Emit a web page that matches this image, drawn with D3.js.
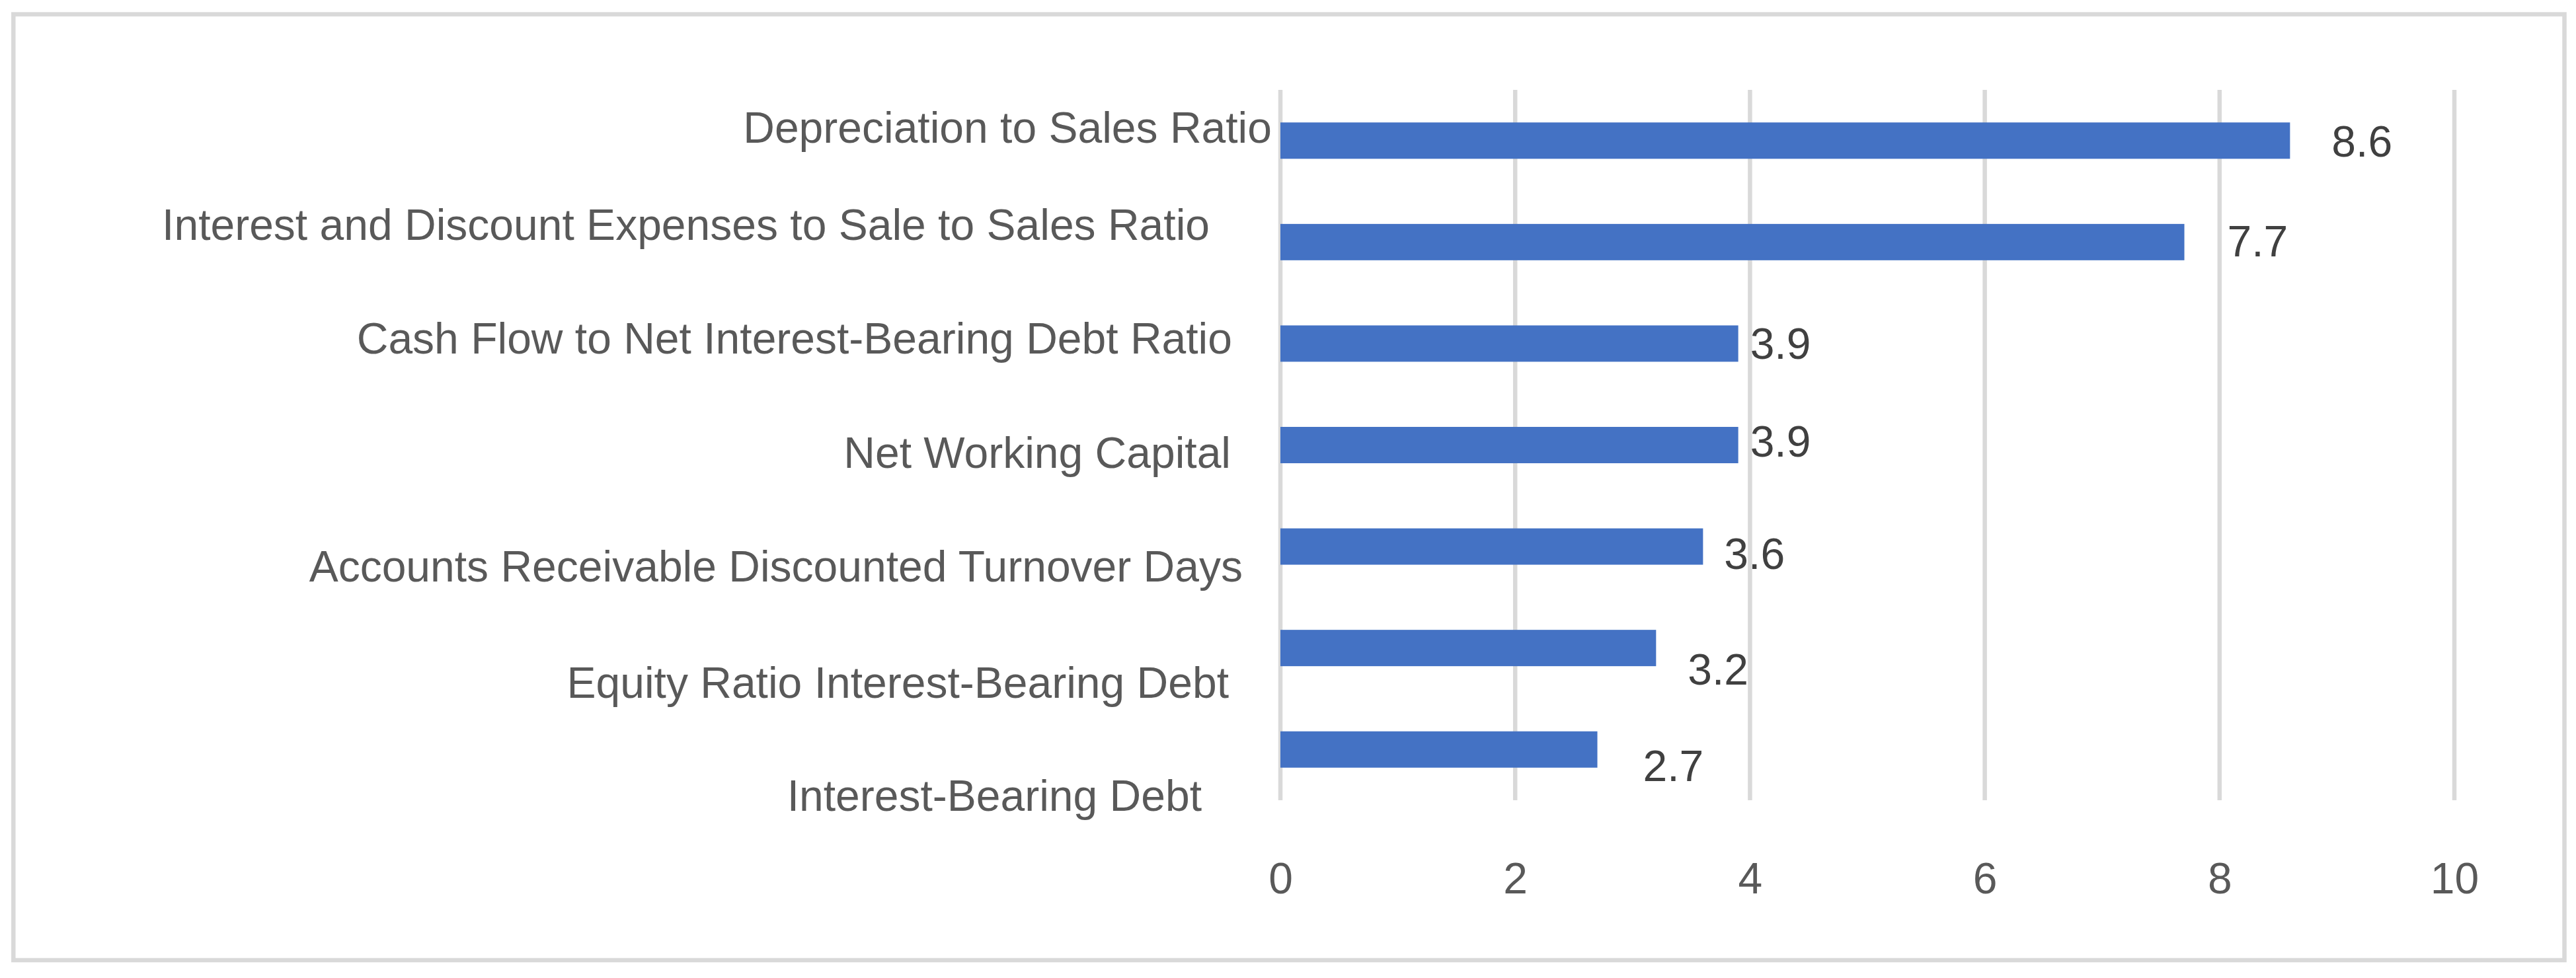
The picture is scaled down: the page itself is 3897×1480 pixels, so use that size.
<!DOCTYPE html>
<html>
<head>
<meta charset="utf-8">
<script src="https://cdn.jsdelivr.net/npm/d3@7"></script>
<style>
  html, body { margin: 0; padding: 0; background: #ffffff; }
  svg { display: block; }
</style>
</head>
<body>
<div id="chart"></div>
<script>
// ---- data ----
const categories = [
  "Depreciation to Sales Ratio",
  "Interest and Discount Expenses to Sale to Sales Ratio",
  "Cash Flow to Net Interest-Bearing Debt Ratio",
  "Net Working Capital",
  "Accounts Receivable Discounted Turnover Days",
  "Equity Ratio Interest-Bearing Debt",
  "Interest-Bearing Debt"
];
const values = [8.6, 7.7, 3.9, 3.9, 3.6, 3.2, 2.7];
const xTicks = [0, 2, 4, 6, 8, 10];

// ---- layout tweaks (manual label placement seen in the original) ----
const catLabelShiftX = [0, -94, -60, -62, -44, -65, -106];
const catLabelShiftY = [3, -3, 15, 34, 53, 75, 93];
const valLabelShiftX = [45, 47, 0, 0, 14, 30, 51];
const valLabelShiftY = [1, -1, 0, -6, 11, 32, 25];

const W = 3897, H = 1480;
const plot = { left: 1937, right: 3713, top: 136, bottom: 1211 };
const font = "'Liberation Sans', Arial, sans-serif";
const fontSize = 66;

const svg = d3.select("#chart").append("svg")
  .attr("width", W).attr("height", H)
  .attr("viewBox", `0 0 ${W} ${H}`);

svg.append("rect").attr("x", 0).attr("y", 0).attr("width", W).attr("height", H).attr("fill", "#ffffff");

// outer border
svg.append("rect")
  .attr("x", 20.3).attr("y", 21.6)
  .attr("width", 3859.2).attr("height", 1431.4)
  .attr("fill", "none").attr("stroke", "#d9d9d9").attr("stroke-width", 6.5);

const x = d3.scaleLinear().domain([0, 10]).range([plot.left, plot.right]);
const y = d3.scaleBand().domain(categories).range([plot.top, plot.bottom])
  .paddingInner(0.642).paddingOuter(0.321);

// gridlines
svg.append("g").selectAll("line").data(xTicks).join("line")
  .attr("x1", d => x(d)).attr("x2", d => x(d))
  .attr("y1", plot.top).attr("y2", plot.bottom)
  .attr("stroke", "#d9d9d9").attr("stroke-width", 6.5);

// x axis labels
const xAxis = svg.append("g")
  .attr("transform", `translate(0,${plot.bottom})`)
  .call(d3.axisBottom(x).tickValues(xTicks).tickSize(0).tickFormat(d3.format("d")));
xAxis.select(".domain").remove();
xAxis.selectAll("text")
  .attr("y", 141).attr("dy", 0)
  .attr("fill", "#595959")
  .style("font-family", font).style("font-size", fontSize + "px");

// bars
svg.append("g").selectAll("rect").data(values).join("rect")
  .attr("x", x(0))
  .attr("y", (d, i) => y(categories[i]))
  .attr("width", d => x(d) - x(0))
  .attr("height", y.bandwidth())
  .attr("fill", "#4472c4");

// value labels
svg.append("g").selectAll("text").data(values).join("text")
  .attr("x", (d, i) => x(d) + 18 + valLabelShiftX[i])
  .attr("y", (d, i) => y(categories[i]) + y.bandwidth() / 2 + 23 + valLabelShiftY[i])
  .attr("fill", "#404040")
  .style("font-family", font).style("font-size", fontSize + "px")
  .text(d => d3.format(".1f")(d));

// category labels
svg.append("g").selectAll("text").data(categories).join("text")
  .attr("text-anchor", "end")
  .attr("x", (d, i) => plot.left - 13 + catLabelShiftX[i])
  .attr("y", (d, i) => y(d) + y.bandwidth() / 2 + catLabelShiftY[i])
  .attr("fill", "#595959")
  .style("font-family", font).style("font-size", fontSize + "px")
  .text(d => d);
</script>
</body>
</html>
